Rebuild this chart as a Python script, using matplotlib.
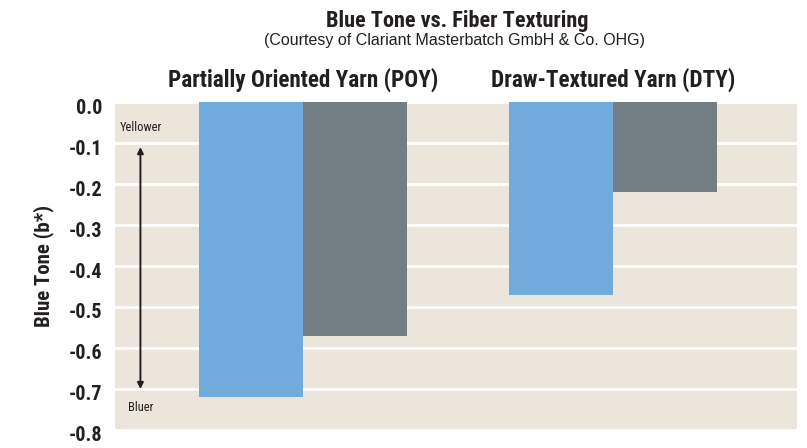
import matplotlib
matplotlib.use("Agg")
import matplotlib.pyplot as plt
from matplotlib.transforms import ScaledTranslation
import numpy as np

# data
groups = ["Partially Oriented Yarn (POY)", "Draw-Textured Yarn (DTY)"]
blue_vals = [-0.72, -0.47]
gray_vals = [-0.57, -0.22]
yticks = [0.0, -0.1, -0.2, -0.3, -0.4, -0.5, -0.6, -0.7, -0.8]

BG = "#ece5db"
BLUE = "#71abdb"
GRAY = "#727e83"
INK = "#231f20"

plt.rcParams["font.family"] = ["Roboto Condensed", "DejaVu Sans"]

fig = plt.figure(figsize=(8.07, 4.48), dpi=100)
ax = fig.add_axes([0.1425, 0.0402, 0.845, 0.7321])
ax.set_facecolor(BG)

x = np.arange(len(groups))
w = 0.335
ax.bar(x - w / 2, blue_vals, w, color=BLUE, zorder=3)
ax.bar(x + w / 2, gray_vals, w, color=GRAY, zorder=3)

ax.set_xlim(-0.606, 1.594)
ax.set_ylim(-0.8, 0.0)
ax.set_yticks(yticks)
ax.set_yticklabels([f"{v:.1f}" if v != 0 else "0.0" for v in yticks],
                   fontsize=14.5, fontweight="bold", color=INK)
ax.tick_params(axis="y", length=0, pad=9)
# labels sit a little below their grid lines in the original
for lab in ax.get_yticklabels():
    lab.set_transform(lab.get_transform() + ScaledTranslation(0, -4 / 100, fig.dpi_scale_trans))
ax.set_xticks([])
ax.grid(axis="y", color="white", linewidth=2, zorder=1)
for s in ax.spines.values():
    s.set_visible(False)

ax.set_ylabel("Blue Tone (b*)", fontsize=15, fontweight="bold", color=INK, labelpad=11)

# yellower / bluer arrow
ax.annotate("", xy=(-0.524, -0.70), xytext=(-0.524, -0.11),
            arrowprops=dict(arrowstyle="<|-|>", color=INK, lw=1.4,
                            mutation_scale=9, shrinkA=0, shrinkB=0), zorder=4)
ax.text(-0.524, -0.063, "Yellower", ha="center", va="center", fontsize=9, color=INK)
ax.text(-0.524, -0.745, "Bluer", ha="center", va="center", fontsize=9, color=INK)

# titles
fig.text(457 / 807, 1 - 21 / 448, "Blue Tone vs. Fiber Texturing", ha="center", va="center",
         fontsize=16, fontweight="bold", color=INK)
fig.text(455 / 807, 1 - 40 / 448, "(Courtesy of Clariant Masterbatch GmbH & Co. OHG)", ha="center",
         va="center", fontsize=11.5, color=INK, family=["Liberation Sans", "DejaVu Sans"])
for xi, name in zip(x, groups):
    ax.text(xi, 1 + 22 / 328, name, transform=ax.get_xaxis_transform(), ha="center", va="center",
            fontsize=16.7, fontweight="bold", color=INK)

fig.savefig("out.png", dpi=100, facecolor="white")
